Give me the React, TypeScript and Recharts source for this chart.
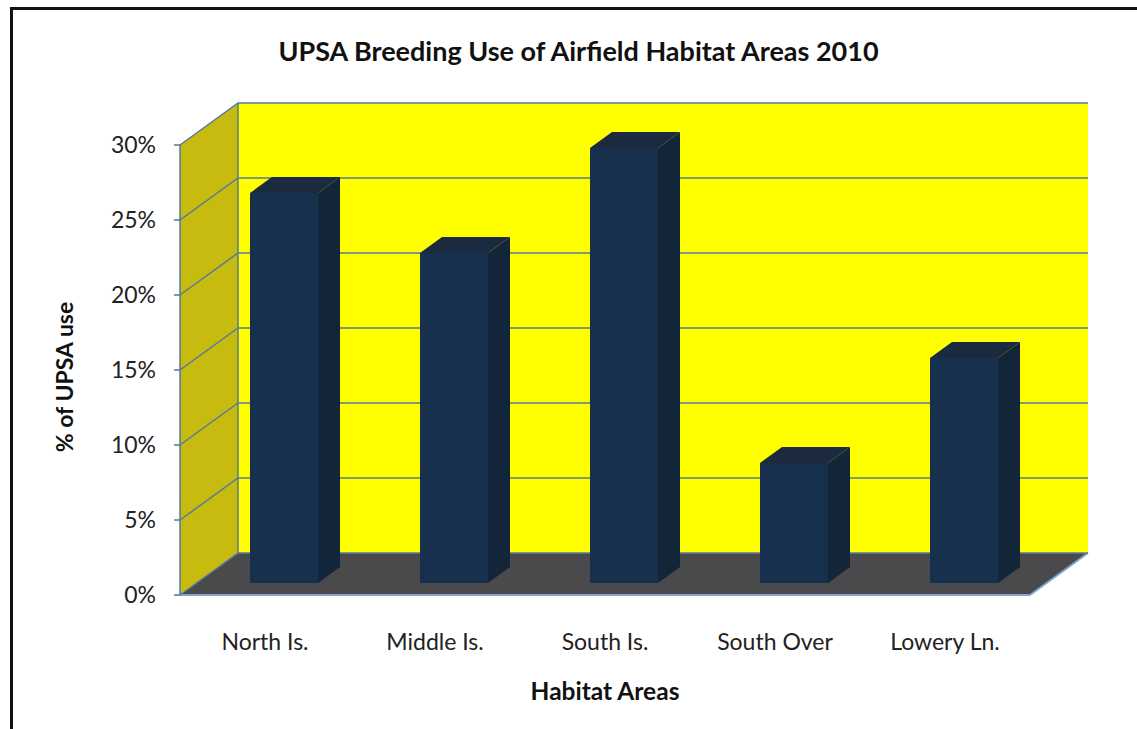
import {
  Bar,
  BarChart,
  CartesianGrid,
  ReferenceArea,
  XAxis,
  YAxis,
} from 'recharts'

const habitatAreas = ['North Is.', 'Middle Is.', 'South Is.', 'South Over', 'Lowery Ln.']
const upsaUse = [0.26, 0.22, 0.29, 0.08, 0.15]
const yTicks = [0, 0.05, 0.1, 0.15, 0.2, 0.25, 0.3]

const data = habitatAreas.map((area, i) => ({ area, use: upsaUse[i] }))

// fake 3D: how far the back wall sits from the front plane
const DEPTH_X = 58
const DEPTH_Y = 42
// bar front face sits a bit inside the box, and has its own depth
const BAR_SHIFT_X = 19
const BAR_SHIFT_Y = 12
const BAR_DEPTH_X = 22
const BAR_DEPTH_Y = 16

const FONT = 'Lato, "Open Sans", sans-serif'
const EDGE = '#557a9a'

function Walls(props: any) {
  const { x, y, width, height } = props
  const bottom = y + height
  return (
    <g>
      <rect x={x + DEPTH_X} y={y - DEPTH_Y} width={width} height={height} fill="#ffff00" />
      <polygon
        points={`${x},${y} ${x + DEPTH_X},${y - DEPTH_Y} ${x + DEPTH_X},${bottom - DEPTH_Y} ${x},${bottom}`}
        fill="#c8bb10"
      />
      <polygon
        points={`${x},${bottom} ${x + DEPTH_X},${bottom - DEPTH_Y} ${x + width + DEPTH_X},${bottom - DEPTH_Y} ${x + width},${bottom}`}
        fill="#4a4a4c"
      />
      <line x1={x + DEPTH_X} y1={y - DEPTH_Y} x2={x + DEPTH_X} y2={bottom - DEPTH_Y} stroke={EDGE} strokeWidth={1.5} />
      <line x1={x} y1={bottom} x2={x + width} y2={bottom} stroke="#7fa6c8" strokeWidth={2} />
      <line
        x1={x + width}
        y1={bottom}
        x2={x + width + DEPTH_X}
        y2={bottom - DEPTH_Y}
        stroke="#7fa6c8"
        strokeWidth={2}
      />
    </g>
  )
}

function GridLine(props: any) {
  const { x1, x2, y1 } = props
  return (
    <polyline
      key={props.key}
      points={`${x1},${y1} ${x1 + DEPTH_X},${y1 - DEPTH_Y} ${x2 + DEPTH_X},${y1 - DEPTH_Y}`}
      fill="none"
      stroke={EDGE}
      strokeWidth={1.5}
    />
  )
}

function Box3D(props: any) {
  const { x, y, width, height } = props
  if (!height) return null
  const fx = x + BAR_SHIFT_X
  const fy = y - BAR_SHIFT_Y
  const fr = fx + width
  const fb = fy + height
  return (
    <g>
      <rect x={fx} y={fy} width={width} height={height} fill="#17304e" />
      <polygon
        points={`${fr},${fy} ${fr + BAR_DEPTH_X},${fy - BAR_DEPTH_Y} ${fr + BAR_DEPTH_X},${fb - BAR_DEPTH_Y} ${fr},${fb}`}
        fill="#132538"
      />
      <polygon
        points={`${fx},${fy} ${fx + BAR_DEPTH_X},${fy - BAR_DEPTH_Y} ${fr + BAR_DEPTH_X},${fy - BAR_DEPTH_Y} ${fr},${fy}`}
        fill="#1b2a3f"
      />
    </g>
  )
}

export default function App() {
  return (
    <div style={{ position: 'absolute', left: 0, top: 0, width: 1137, height: 729, background: '#fff', overflow: 'hidden' }}>
      <div
        style={{
          position: 'absolute',
          left: 10,
          top: 7,
          width: 1140,
          height: 740,
          border: '3px solid #111',
          boxSizing: 'border-box',
        }}
      />
      <div
        style={{
          position: 'absolute',
          left: 0,
          width: 1157,
          top: 34,
          textAlign: 'center',
          fontFamily: FONT,
          fontWeight: 700,
          fontSize: 27,
          color: '#111',
        }}
      >
        UPSA Breeding Use of Airfield Habitat Areas 2010
      </div>
      <div
        style={{
          position: 'absolute',
          left: 180,
          width: 850,
          top: 676,
          textAlign: 'center',
          fontFamily: FONT,
          fontWeight: 700,
          fontSize: 24.5,
          color: '#111',
        }}
      >
        Habitat Areas
      </div>
      <div
        style={{
          position: 'absolute',
          left: 64,
          top: 377,
          transform: 'translate(-50%, -50%) rotate(-90deg)',
          whiteSpace: 'nowrap',
          fontFamily: FONT,
          fontWeight: 700,
          fontSize: 23,
          color: '#111',
        }}
      >
        % of UPSA use
      </div>
      <div style={{ position: 'absolute', left: 0, top: 0 }}>
        <BarChart
          width={1137}
          height={729}
          data={data}
          barSize={68}
          margin={{ top: 145, right: 107, bottom: 74, left: 100 }}
        >
          <ReferenceArea y1={0} y2={0.3} ifOverflow="visible" shape={<Walls />} zIndex={-200} />
          <CartesianGrid vertical={false} horizontal={(p: any) => <GridLine {...p} />} zIndex={-150} />
          <XAxis
            dataKey="area"
            height={60}
            axisLine={false}
            tickLine={false}
            tickMargin={33}
            tick={{ fontSize: 23, fill: '#222', fontFamily: FONT }}
          />
          <YAxis
            width={80}
            domain={[0, 0.3]}
            ticks={yTicks}
            tickFormatter={(v: number) => `${Math.round(v * 100)}%`}
            axisLine={{ stroke: EDGE, strokeWidth: 1.5 }}
            tickLine={{ stroke: EDGE, strokeWidth: 1.5 }}
            tickSize={6}
            tickMargin={18}
            tick={{ fontSize: 23, fill: '#222', fontFamily: FONT }}
          />
          <Bar dataKey="use" shape={<Box3D />} isAnimationActive={false} />
        </BarChart>
      </div>
    </div>
  )
}
